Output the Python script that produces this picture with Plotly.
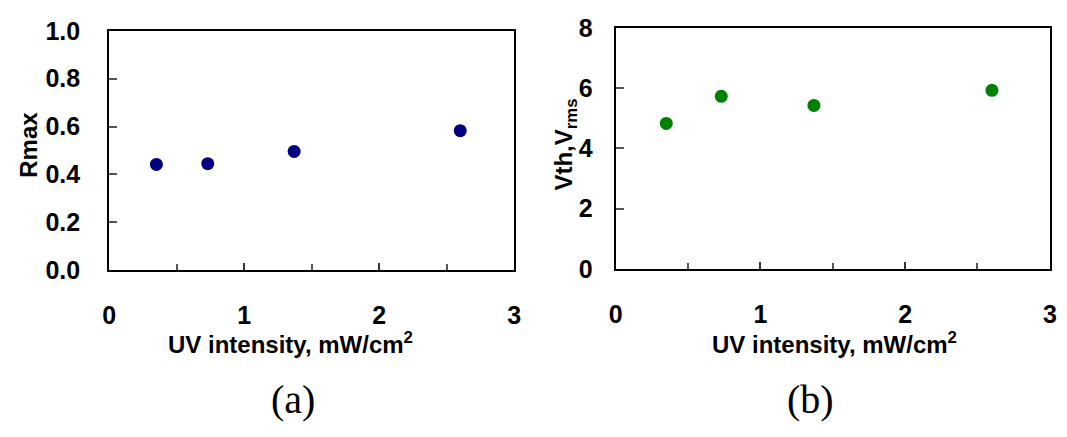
import plotly.graph_objects as go

# Measurements: UV intensity and the two responses
uv_intensity = [0.35, 0.73, 1.37, 2.60]
r_max = [0.442, 0.445, 0.496, 0.583]
v_th = [4.83, 5.73, 5.43, 5.93]

x_ticks = [0, 1, 2, 3]
r_ticks = [0.0, 0.2, 0.4, 0.6, 0.8, 1.0]
v_ticks = [0, 2, 4, 6, 8]

W, H = 1067, 437


def fx(px):
    return px / W


def fy(py):
    return 1 - py / H


TICK_FONT = dict(family="Liberation Sans, Arial", size=25, color="black", weight="bold")
TITLE_FONT = dict(family="Liberation Sans, Arial", size=24, color="black", weight="bold")
CAPTION_FONT = dict(family="Liberation Serif, Times New Roman", size=40, color="black")

fig = go.Figure()

fig.add_trace(go.Scatter(
    x=uv_intensity, y=r_max, mode="markers",
    marker=dict(color="#000080", size=13, line=dict(width=0)),
    xaxis="x", yaxis="y", showlegend=False,
))
fig.add_trace(go.Scatter(
    x=uv_intensity, y=v_th, mode="markers",
    marker=dict(color="#008000", size=13, line=dict(width=0)),
    xaxis="x2", yaxis="y2", showlegend=False,
))

xaxis_common = dict(
    range=[0, 3], tickvals=x_ticks, ticktext=[str(v) for v in x_ticks],
    ticks="inside", ticklen=7, tickwidth=1.5, tickcolor="#333",
    minor=dict(dtick=0.5, tick0=0, ticks="inside", ticklen=6, tickwidth=1.5, tickcolor="#555"),
    showline=True, linecolor="black", linewidth=2, mirror=True,
    showgrid=False, zeroline=False, tickfont=TICK_FONT, ticklabelstandoff=22,
    fixedrange=True,
)
yaxis_common = dict(
    ticks="inside", ticklen=8, tickwidth=1.5, tickcolor="#555",
    showline=True, linecolor="black", linewidth=2, mirror=True,
    showgrid=False, zeroline=False, tickfont=TICK_FONT, fixedrange=True,
)

fig.update_layout(
    width=W, height=H,
    margin=dict(l=0, r=0, t=0, b=0),
    paper_bgcolor="white", plot_bgcolor="white",
    xaxis=dict(domain=[fx(103.5), fx(514)], anchor="y", **xaxis_common),
    yaxis=dict(domain=[fy(273.7), fy(18)], anchor="x", range=[0, 1.0],
               tickvals=r_ticks, tickformat=".1f", ticklabelstandoff=22,
               **yaxis_common),
    xaxis2=dict(domain=[fx(616.7), fx(1056.7)], anchor="y2", **xaxis_common),
    yaxis2=dict(domain=[fy(272.3), fy(15)], anchor="x2", range=[0, 8],
                tickvals=v_ticks, ticklabelstandoff=16, **yaxis_common),
)

annotations = [
    dict(text="Rmax", x=fx(21), y=fy(140), textangle=-90, font=TITLE_FONT),
    dict(text="Vth,V<sub>rms</sub>", x=fx(565), y=fy(140), textangle=-90, font=TITLE_FONT),
    dict(text="UV intensity, mW/cm<sup>2</sup>", x=fx(287), y=fy(351), font=TITLE_FONT),
    dict(text="UV intensity, mW/cm<sup>2</sup>", x=fx(838), y=fy(351), font=TITLE_FONT),
    dict(text="(a)", x=fx(290), y=fy(412), font=CAPTION_FONT),
    dict(text="(b)", x=fx(814), y=fy(412), font=CAPTION_FONT),
]
for a in annotations:
    fig.add_annotation(xref="paper", yref="paper", showarrow=False,
                       xanchor="center", yanchor="middle", **a)

fig.write_html("out.html")
